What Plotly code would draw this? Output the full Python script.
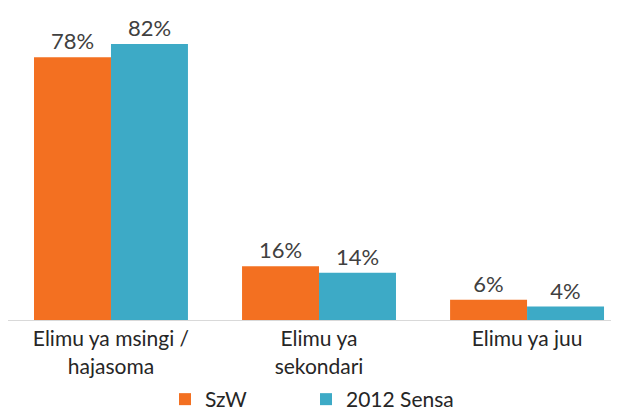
import plotly.graph_objects as go

categories = ["Elimu ya msingi /<br>hajasoma", "Elimu ya<br>sekondari", "Elimu ya juu"]
szw = [78, 16, 6]
sensa = [82, 14, 4]
series_names = ["SzW", "2012 Sensa"]
colors = ["#F37021", "#3DAAC6"]

FONT = "Lato, 'Open Sans', sans-serif"

# page has an 8px body margin, so the figure is sized to fill the rest of the window
W, H = 611, 403

legend_names = ["legend", "legend2"]
legend_x = [157, 298]

fig = go.Figure()
for name, vals, col, lg in zip(series_names, [szw, sensa], colors, legend_names):
    fig.add_trace(go.Bar(
        x=list(range(len(categories))), y=vals, name=name,
        marker=dict(color=col, line=dict(width=0)),
        text=[f"{v}%" for v in vals], textposition="outside",
        textfont=dict(size=22, color="#404040", family=FONT),
        cliponaxis=False, legend=lg,
    ))

leg_common = dict(orientation="h", xref="container", yref="container",
                  xanchor="left", y=1 - 391.5 / H, yanchor="middle",
                  font=dict(size=21, color="#262626", family=FONT),
                  itemwidth=30, bgcolor="rgba(0,0,0,0)")

fig.update_layout(
    width=W, height=H,
    margin=dict(l=0, r=0, t=12, b=91, autoexpand=False),
    barmode="group", bargap=0.26, bargroupgap=0,
    plot_bgcolor="white", paper_bgcolor="white",
    font=dict(family=FONT, size=21, color="#262626"),
    showlegend=True,
    legend=dict(x=legend_x[0] / W, **leg_common),
    legend2=dict(x=legend_x[1] / W, **leg_common),
    xaxis=dict(tickmode="array", tickvals=list(range(len(categories))), ticktext=categories,
               range=[-0.495, 2.442], showline=True, linecolor="#D9D9D9", linewidth=1,
               ticks="", showgrid=False, zeroline=False, automargin=False,
               tickfont=dict(size=21, color="#262626", family=FONT)),
    yaxis=dict(range=[0, 89.1], visible=False, showgrid=False, zeroline=False),
)

fig.write_html("out.html")
